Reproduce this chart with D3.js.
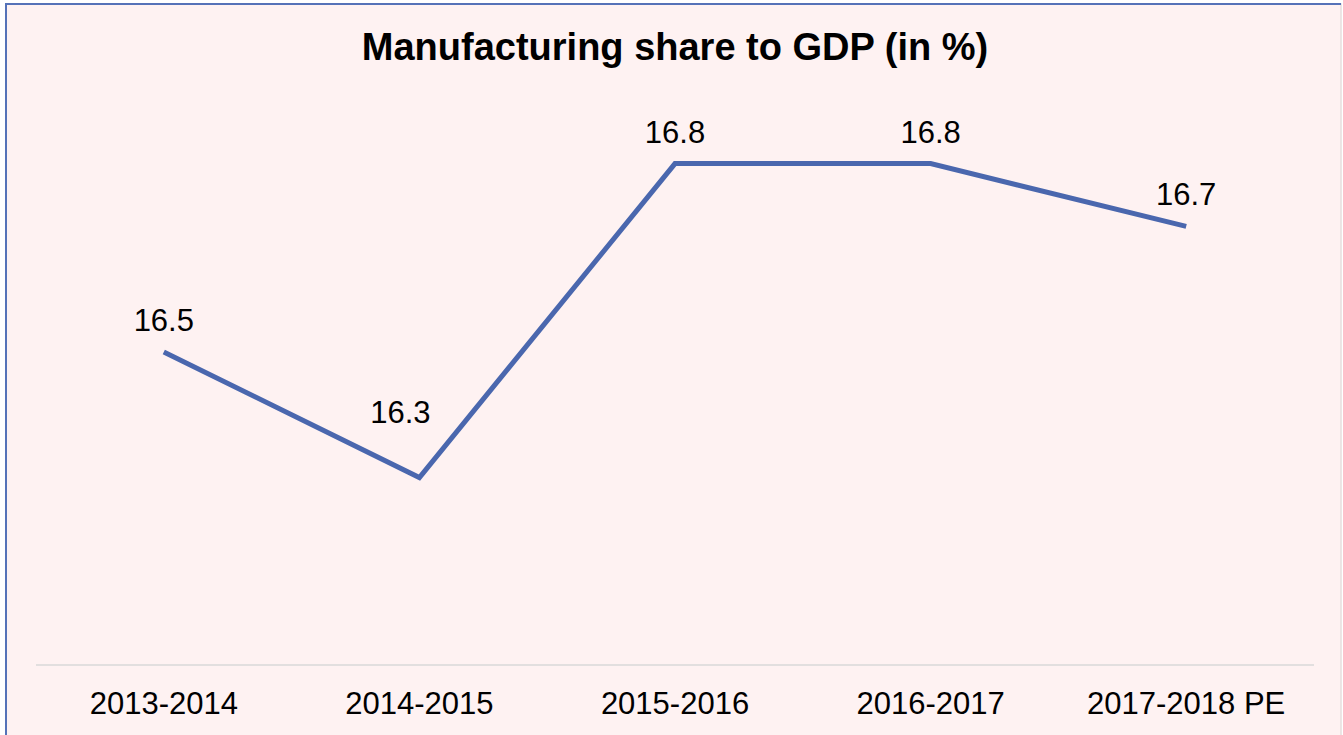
<!DOCTYPE html>
<html>
<head>
<meta charset="utf-8">
<script src="https://cdn.jsdelivr.net/npm/d3@7"></script>
<style>
  body { margin: 0; background: #ffffff; }
  text { font-family: "Liberation Sans", Arial, sans-serif; }
</style>
</head>
<body>
<div id="chart"></div>
<script>
// data
var years = ["2013-2014", "2014-2015", "2015-2016", "2016-2017", "2017-2018 PE"];
var share = [16.5, 16.3, 16.8, 16.8, 16.7];

var width = 1343, height = 735;

var svg = d3.select("#chart")
    .append("svg")
    .attr("width", width)
    .attr("height", height);

// chart area background + border
svg.append("rect")
    .attr("x", 6)
    .attr("y", 4)
    .attr("width", 1335)
    .attr("height", 760)
    .attr("fill", "#fef2f2")
    .attr("stroke", "#e6dede")
    .attr("stroke-width", 1.5);

// blue left/top edges
svg.append("path")
    .attr("d", "M6,740 L6,4 L1341,4")
    .attr("fill", "none")
    .attr("stroke", "#5572b8")
    .attr("stroke-width", 2);

// scales
var x = d3.scaleBand()
    .domain(years)
    .range([36, 1314]);

var y = d3.scaleLinear()
    .domain([16, 17])
    .range([666, 38]);

// baseline (category axis)
svg.append("line")
    .attr("x1", 36)
    .attr("x2", 1314)
    .attr("y1", 665)
    .attr("y2", 665)
    .attr("stroke", "#d9d9d9")
    .attr("stroke-width", 1.5);

// category labels
svg.append("g")
    .selectAll("text")
    .data(years)
    .enter()
    .append("text")
    .attr("x", d => x(d) + x.bandwidth() / 2)
    .attr("y", 714)
    .attr("text-anchor", "middle")
    .attr("font-size", "31px")
    .attr("fill", "#000")
    .text(d => d);

// line
var line = d3.line()
    .x((d, i) => x(years[i]) + x.bandwidth() / 2)
    .y(d => y(d));

svg.append("path")
    .datum(share)
    .attr("d", line)
    .attr("fill", "none")
    .attr("stroke", "#4a67ae")
    .attr("stroke-width", 5)
    .attr("stroke-linejoin", "miter");

// data labels (the 2014-2015 one sits up and to the left)
svg.append("g")
    .selectAll("text")
    .data(share)
    .enter()
    .append("text")
    .attr("x", (d, i) => x(years[i]) + x.bandwidth() / 2 + (i == 1 ? -19 : 0))
    .attr("y", (d, i) => y(d) - (i == 1 ? 55 : 21))
    .attr("text-anchor", "middle")
    .attr("font-size", "31px")
    .attr("fill", "#000")
    .text(d => d.toFixed(1));

// title
svg.append("text")
    .attr("x", 675)
    .attr("y", 60)
    .attr("text-anchor", "middle")
    .attr("font-size", "38px")
    .attr("font-weight", "bold")
    .attr("fill", "#000")
    .text("Manufacturing share to GDP (in %)");
</script>
</body>
</html>
